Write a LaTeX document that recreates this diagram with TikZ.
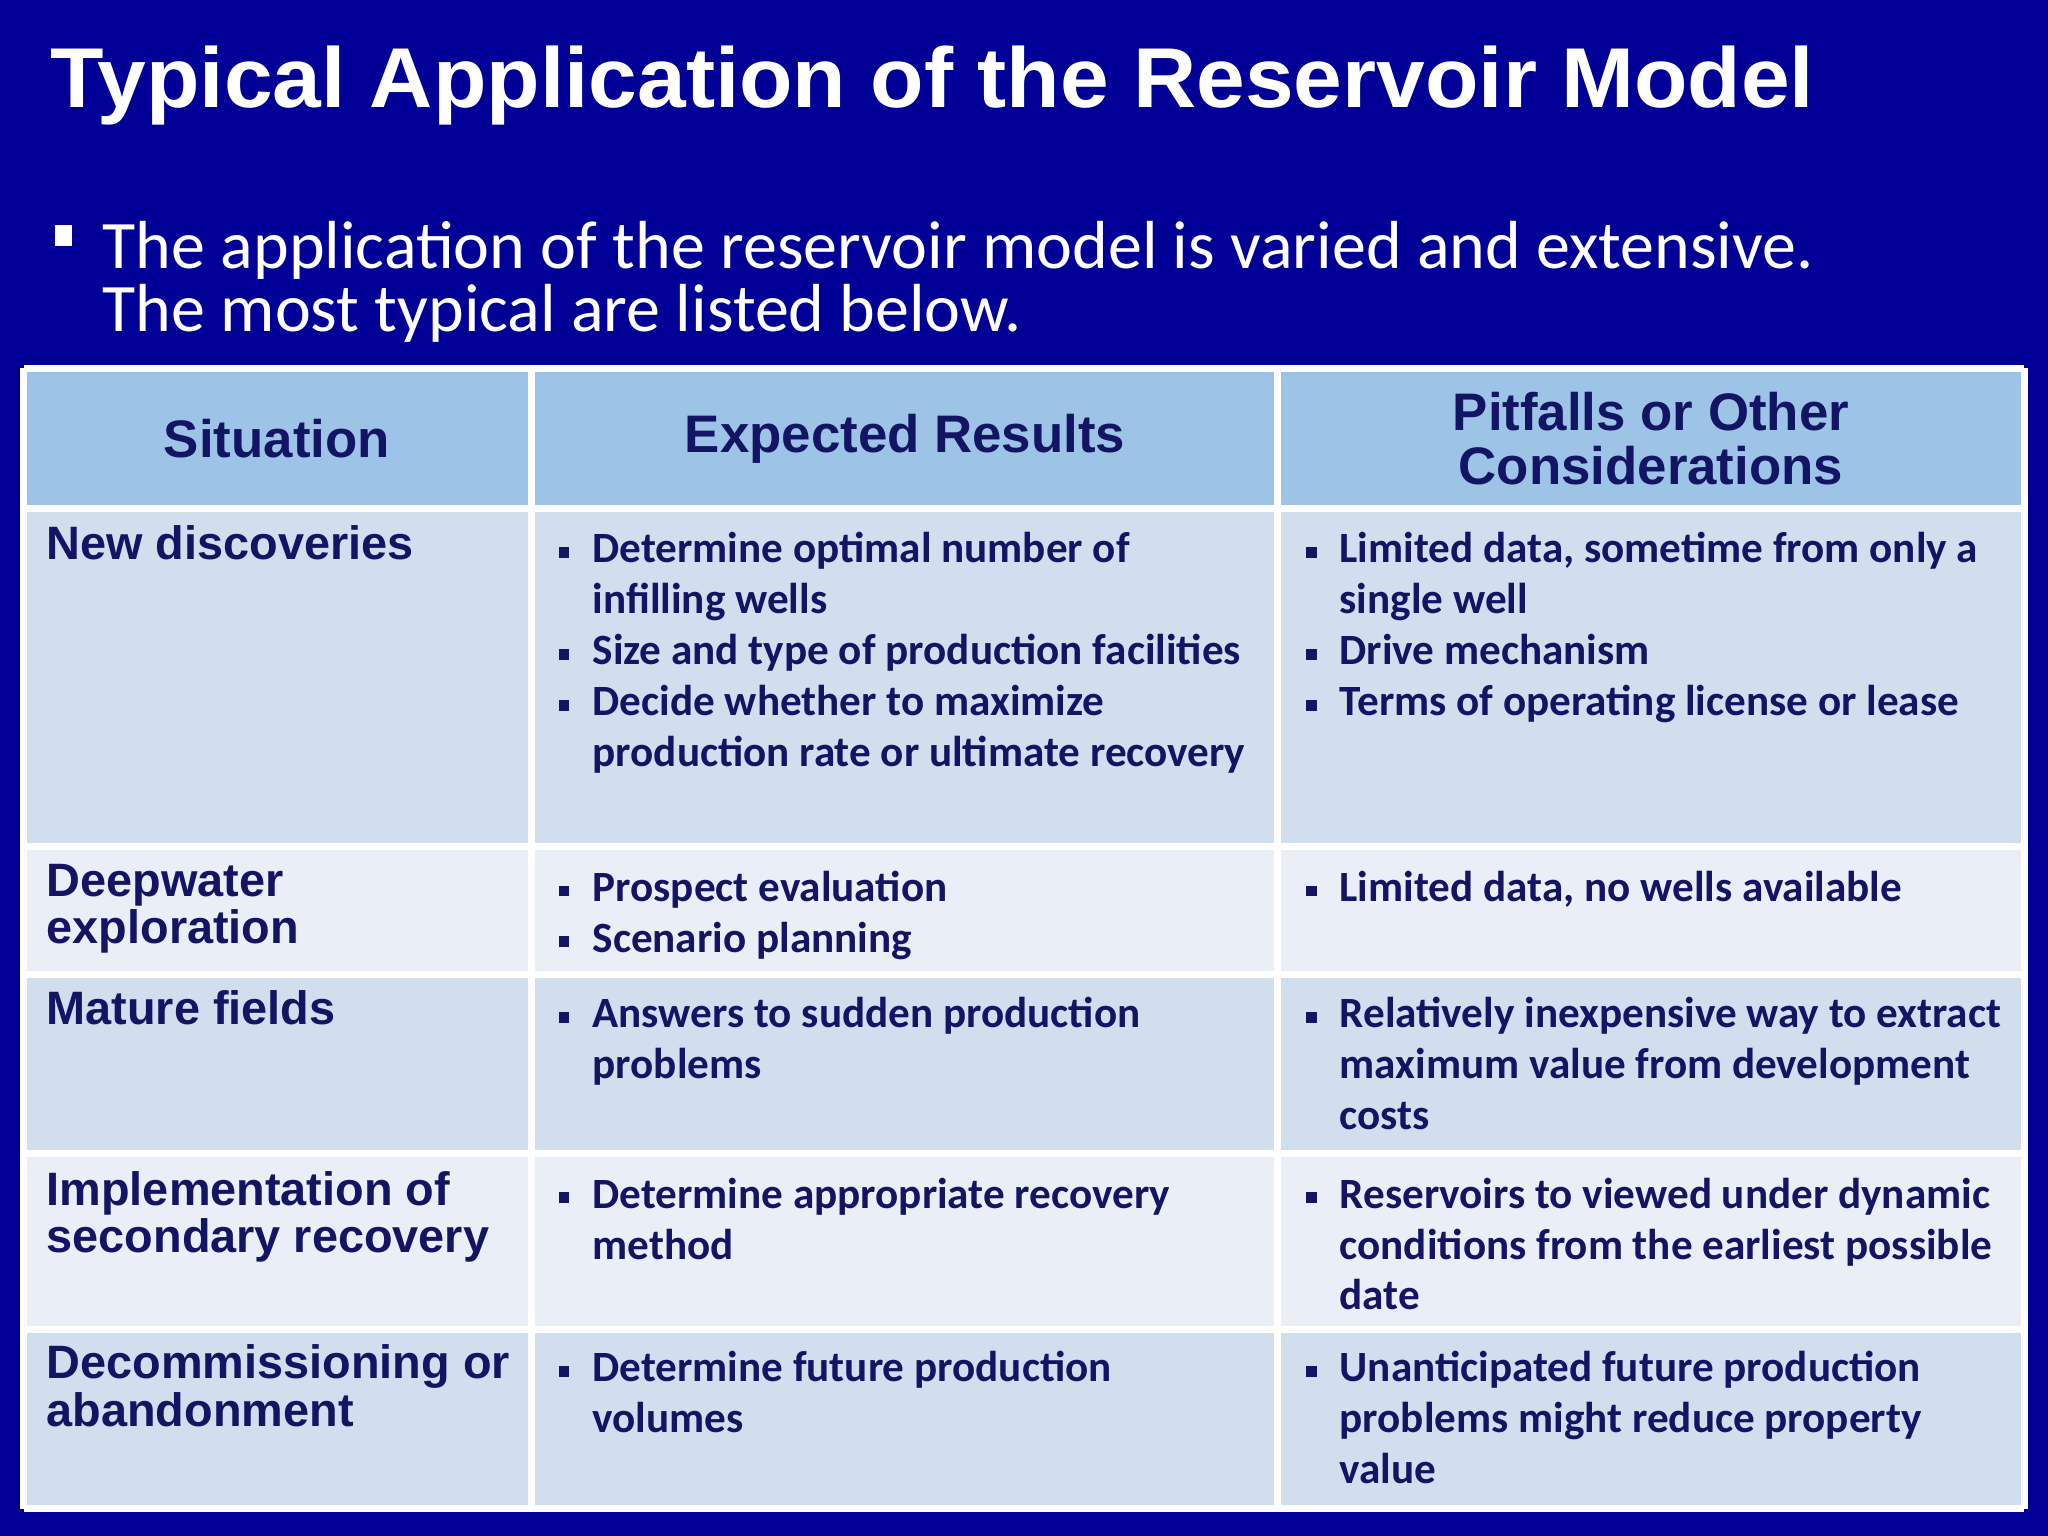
\documentclass[tikz,border=0pt]{standalone}
\usepackage{fontspec}
\setmainfont{Carlito}
\newfontfamily\blk{Liberation Sans}
\definecolor{bg}{RGB}{0,0,150}
\definecolor{hdr}{RGB}{157,195,230}
\definecolor{rowa}{RGB}{208,222,238}
\definecolor{rowb}{RGB}{233,238,247}
\definecolor{ink}{RGB}{20,20,100}
\tikzset{
 cell/.style={draw=white,line width=1.5pt},
 hd/.style={font=\blk\bfseries\fontsize{11.5}{11.8}\selectfont,text=ink,align=center,inner sep=0},
 lab/.style={anchor=north west,font=\blk\bfseries\fontsize{10.2}{10.3}\selectfont,text=ink,align=left,inner sep=0},
 txt/.style={anchor=north west,font=\bfseries\fontsize{9.4}{11.1}\selectfont,text=ink,align=left,inner sep=0},
 sq/.style={fill=ink,minimum size=0.08cm,inner sep=0}
}
\begin{document}
\begin{tikzpicture}[x=0.01cm,y=-0.01cm]
\fill[bg] (0,0) rectangle (1568,1176);
\useasboundingbox (0,0) rectangle (1568,1176);
\node[anchor=base west,inner sep=0,text=white,font=\blk\bfseries\fontsize{18.5}{20}\selectfont] (title) at (38,82) {\scalebox{1.03}[1]{Typical Application of the Reservoir Model}};
\fill[white] (42,172) rectangle (55,188);
\node[anchor=north west,inner sep=0,text=white,font=\fontsize{14.8}{13.6}\selectfont,align=left] (intro) at (78,169) {The application of the reservoir model is varied and extensive.\\The most typical are listed below.};
% table
\fill[hdr] (18,282) rectangle (1550,389);
\foreach \a/\b/\c in {389/648/rowa,648/746/rowb,746/883/rowa,883/1018/rowb,1018/1155/rowa}{\fill[\c] (18,\a) rectangle (1550,\b);}
\foreach \y in {282,389,648,746,883,1018,1155}{\draw[cell] (18,\y) -- (1550,\y);}
\foreach \x in {18,407,978,1550}{\draw[cell] (\x,282) -- (\x,1155);}
\node[hd] (h1) at (212,336) {Situation};
\node[hd] (h2) at (693,336) {Expected Results};
\node[hd] (h3) at (1264,336) {Pitfalls or Other\\Considerations};
% col1
\node[lab] (l1) at (35,402) {New discoveries};
\node[lab] (l2) at (35,661) {Deepwater\\exploration};
\node[lab] (l3) at (35,758) {Mature fields};
\node[lab] (l4) at (35,896) {Implementation of\\secondary recovery};
\node[lab] (l5) at (35,1029) {Decommissioning or\\abandonment};
% bullets
\newcommand{\bl}[3]{\node[sq] at (#1-21,#2-7) {}; \node[txt] at (#1,#2-23) {#3};}
\bl{453}{430}{Determine optimal number of\\infilling wells}
\bl{453}{508}{Size and type of production facilities}
\bl{453}{547}{Decide whether to maximize\\production rate or ultimate recovery}
\bl{453}{689}{Prospect evaluation}
\bl{453}{728}{Scenario planning}
\bl{453}{786}{Answers to sudden production\\problems}
\bl{453}{924}{Determine appropriate recovery\\method}
\bl{453}{1057}{Determine future production\\volumes}
\bl{1025}{430}{Limited data, sometime from only a\\single well}
\bl{1025}{508}{Drive mechanism}
\bl{1025}{547}{Terms of operating license or lease}
\bl{1025}{689}{Limited data, no wells available}
\bl{1025}{786}{Relatively inexpensive way to extract\\maximum value from development\\costs}
\bl{1025}{924}{Reservoirs to viewed under dynamic\\conditions from the earliest possible\\date}
\bl{1025}{1057}{Unanticipated future production\\problems might reduce property\\value}
\end{tikzpicture}
\end{document}
